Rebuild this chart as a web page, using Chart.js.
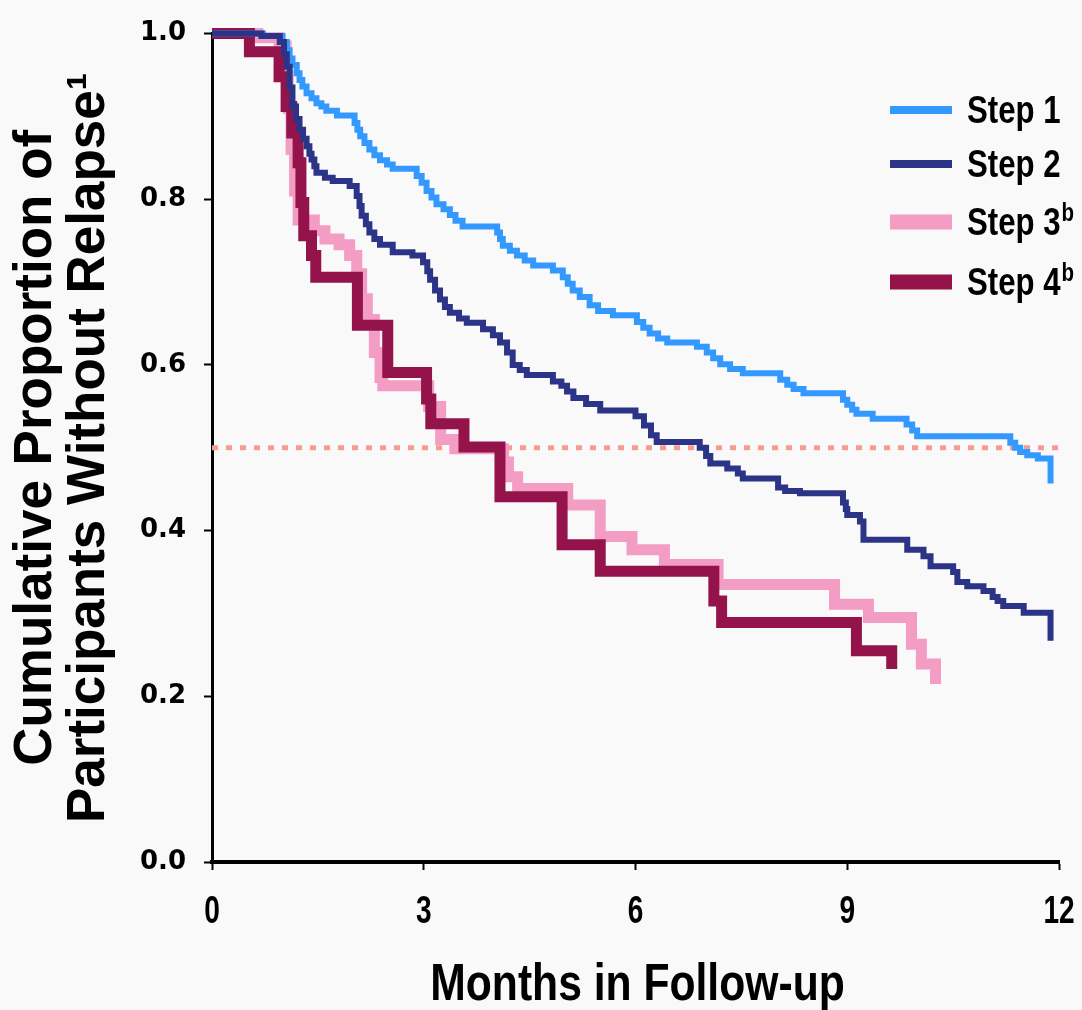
<!doctype html>
<html lang="en">
<head>
<meta charset="utf-8">
<title>Cumulative proportion without relapse</title>
<script src="https://cdn.jsdelivr.net/npm/chart.js"></script>
<style>
  html, body { margin: 0; padding: 0; background: #f9f9f9; }
  #wrap { width: 1082px; height: 1010px; }
</style>
</head>
<body>
<div id="wrap"><canvas id="kmChart"></canvas></div>
<script>
// values: [month, proportion without relapse after the drop]
const step1 = [[0,1.0],[0.72,0.997],[1.0,0.99],[1.06,0.98],[1.1,0.97],[1.14,0.962],[1.2,0.952],[1.24,0.944],
  [1.28,0.936],[1.34,0.928],[1.41,0.922],[1.48,0.916],[1.55,0.912],[1.62,0.907],[1.77,0.901],[2.02,0.892],
  [2.06,0.884],[2.1,0.876],[2.16,0.868],[2.23,0.86],[2.3,0.853],[2.38,0.847],[2.48,0.842],[2.56,0.837],
  [2.9,0.828],[2.97,0.82],[3.04,0.81],[3.11,0.802],[3.18,0.794],[3.28,0.788],[3.37,0.781],[3.45,0.774],
  [3.55,0.767],[4.04,0.76],[4.08,0.752],[4.12,0.744],[4.22,0.738],[4.32,0.732],[4.43,0.726],[4.55,0.72],
  [4.83,0.714],[4.97,0.706],[5.04,0.698],[5.11,0.69],[5.21,0.682],[5.35,0.672],[5.47,0.665],[5.68,0.66],
  [6.02,0.652],[6.11,0.645],[6.2,0.638],[6.32,0.632],[6.45,0.627],[6.87,0.622],[7.01,0.615],[7.1,0.608],
  [7.2,0.601],[7.34,0.595],[7.52,0.59],[8.05,0.582],[8.15,0.576],[8.24,0.571],[8.38,0.566],[8.94,0.558],
  [9.0,0.552],[9.07,0.546],[9.13,0.541],[9.36,0.535],[9.84,0.528],[9.92,0.521],[9.99,0.514],[11.31,0.506],
  [11.38,0.5],[11.45,0.495],[11.55,0.491],[11.7,0.487],[11.88,0.457]];
const step2 = [[0,1.0],[0.7,0.997],[0.96,0.99],[1.02,0.975],[1.06,0.96],[1.1,0.935],[1.14,0.912],[1.19,0.897],
  [1.24,0.884],[1.29,0.873],[1.34,0.864],[1.38,0.855],[1.41,0.848],[1.45,0.84],[1.48,0.832],[1.6,0.826],
  [1.71,0.822],[1.95,0.816],[2.05,0.804],[2.09,0.792],[2.12,0.78],[2.18,0.77],[2.23,0.76],[2.3,0.752],
  [2.38,0.745],[2.56,0.736],[2.84,0.732],[2.99,0.724],[3.05,0.713],[3.09,0.703],[3.16,0.69],[3.23,0.679],
  [3.3,0.67],[3.37,0.663],[3.5,0.656],[3.61,0.651],[3.84,0.643],[3.98,0.636],[4.08,0.627],[4.18,0.615],
  [4.26,0.6],[4.36,0.594],[4.46,0.588],[4.83,0.58],[4.95,0.575],[5.03,0.568],[5.12,0.56],[5.3,0.553],
  [5.5,0.545],[6.0,0.538],[6.12,0.527],[6.22,0.515],[6.3,0.507],[6.91,0.5],[7.0,0.49],[7.06,0.481],
  [7.3,0.475],[7.45,0.469],[7.52,0.463],[8.02,0.452],[8.12,0.448],[8.33,0.445],[8.94,0.434],[8.98,0.426],
  [9.0,0.419],[9.18,0.411],[9.23,0.389],[9.85,0.377],[10.08,0.369],[10.18,0.357],[10.5,0.35],[10.56,0.338],
  [10.7,0.333],[10.93,0.327],[11.06,0.32],[11.13,0.315],[11.21,0.309],[11.5,0.301],[11.88,0.267]];
const step3 = [[0,1.0],[0.65,0.995],[0.95,0.985],[1.05,0.95],[1.08,0.91],[1.12,0.86],[1.17,0.81],[1.22,0.775],
  [1.45,0.762],[1.6,0.752],[1.8,0.745],[1.95,0.732],[2.05,0.71],[2.12,0.68],[2.2,0.655],[2.3,0.615],[2.38,0.585],
  [2.42,0.575],[3.07,0.55],[3.24,0.51],[3.44,0.499],[4.13,0.483],[4.2,0.465],[4.33,0.451],[5.04,0.431],[5.5,0.393],
  [5.95,0.377],[6.41,0.359],[7.17,0.335],[8.82,0.311],[9.3,0.295],[9.91,0.263],[10.05,0.239],[10.25,0.215]];
const step4 = [[0,1.0],[0.53,0.978],[0.95,0.948],[1.05,0.912],[1.13,0.88],[1.22,0.844],[1.26,0.796],[1.3,0.756],
  [1.41,0.732],[1.47,0.706],[2.06,0.648],[2.49,0.591],[3.04,0.559],[3.1,0.529],[3.57,0.501],[4.08,0.441],
  [4.96,0.383],[5.5,0.351],[7.11,0.315],[7.22,0.289],[9.13,0.255],[9.63,0.233]];
const refLine = [[0,0.5],[12,0.5]];

const seriesNames = ['Step 1', 'Step 2', 'Step 3', 'Step 4'];
const seriesSup = ['', '', 'b', 'b'];
const xTicks = [0, 3, 6, 9, 12];
const yTicks = [0, 0.2, 0.4, 0.6, 0.8, 1.0];
const xTitle = 'Months in Follow-up';
const yTitle = ['Cumulative Proportion of', 'Participants Without Relapse\u00B9'];

const colors = ['#3399ff', '#2b3487', '#f39cc4', '#93134a'];
const widths = [6, 6, 11, 11];
const legendWidths = [8, 8, 15, 15];

const toPts = arr => arr.map(p => ({x: p[0], y: p[1]}));

const sans = '"Liberation Sans", Arial, sans-serif';
const wide = '"DejaVu Sans", "Liberation Sans", Arial, sans-serif';

// the original uses a condensed face; squeeze Liberation Sans horizontally
function narrowText(ctx, text, x, y, size, sx, align) {
  ctx.save();
  ctx.font = 'bold ' + size + 'px ' + sans;
  ctx.fillStyle = '#000';
  ctx.textBaseline = 'alphabetic';
  const w = ctx.measureText(text).width * sx;
  let x0 = x;
  if (align === 'center') x0 = x - w / 2;
  ctx.translate(x0, y);
  ctx.scale(sx, 1);
  ctx.fillText(text, 0, 0);
  ctx.restore();
  return w;
}

const textPlugin = {
  id: 'narrowTexts',
  afterDraw(chart) {
    const ctx = chart.ctx;
    const xs = chart.scales.x;
    // x tick labels
    xTicks.forEach(v => {
      narrowText(ctx, String(v), xs.getPixelForValue(v), 923, 39, 0.72, 'center');
    });
    // x title
    narrowText(ctx, xTitle, (chart.chartArea.left + chart.chartArea.right) / 2 + 2, 1000, 52, 0.82, 'center');
    // legend
    const rowY = [110, 164, 222, 282];
    seriesNames.forEach((name, i) => {
      const y = rowY[i];
      ctx.save();
      ctx.strokeStyle = colors[i];
      ctx.lineWidth = legendWidths[i];
      ctx.lineCap = 'butt';
      ctx.beginPath();
      ctx.moveTo(890, y);
      ctx.lineTo(952, y);
      ctx.stroke();
      ctx.restore();
      const w = narrowText(ctx, name, 967, y + 13, 38, 0.82, 'left');
      if (seriesSup[i]) narrowText(ctx, seriesSup[i], 967 + w + 1, y - 1, 25, 0.82, 'left');
    });
  }
};

function makeSet(label, pts, i, order) {
  return {
    label: label,
    data: toPts(pts),
    borderColor: colors[i],
    backgroundColor: colors[i],
    borderWidth: widths[i],
    stepped: 'before',
    pointRadius: 0,
    fill: false,
    clip: 12,
    borderCapStyle: 'butt',
    borderJoinStyle: 'miter',
    order: order
  };
}

new Chart(document.getElementById('kmChart'), {
  type: 'line',
  data: {
    datasets: [
      makeSet(seriesNames[1], step2, 1, 1),
      makeSet(seriesNames[0], step1, 0, 2),
      makeSet(seriesNames[3], step4, 3, 3),
      makeSet(seriesNames[2], step3, 2, 4),
      {
        label: 'median',
        data: toPts(refLine),
        borderColor: '#f89c92',
        borderWidth: 5,
        borderDash: [6, 8],
        pointRadius: 0,
        fill: false,
        order: 5
      }
    ]
  },
  plugins: [textPlugin],
  options: {
    responsive: true,
    maintainAspectRatio: false,
    animation: false,
    events: [],
    layout: { padding: { top: 30, right: 23, left: 0, bottom: 0 } },
    plugins: { legend: { display: false }, tooltip: { enabled: false } },
    scales: {
      x: {
        type: 'linear',
        min: 0,
        max: 12,
        afterBuildTicks: s => { s.ticks = xTicks.map(v => ({value: v})); },
        afterFit: s => { s.height = 148; },
        border: { display: true, color: '#000', width: 4 },
        grid: { drawOnChartArea: false, drawTicks: true, tickLength: 8, tickColor: '#000', tickWidth: 2 },
        ticks: { display: false }
      },
      y: {
        min: 0,
        max: 1,
        afterBuildTicks: s => { s.ticks = yTicks.map(v => ({value: v})); },
        afterFit: s => { s.width = 212; },
        border: { display: true, color: '#000', width: 3 },
        grid: { drawOnChartArea: false, drawTicks: true, tickLength: 8, tickColor: '#000', tickWidth: 2 },
        ticks: {
          color: '#000',
          padding: 18,
          callback: v => v.toFixed(1),
          font: { family: wide, size: 26, weight: 'bold' }
        },
        title: {
          display: true,
          text: yTitle,
          color: '#000',
          font: { family: sans, size: 53, weight: 'bold', lineHeight: 1.0 },
          padding: { top: 10, bottom: 0 }
        }
      }
    }
  }
});
</script>
</body>
</html>
